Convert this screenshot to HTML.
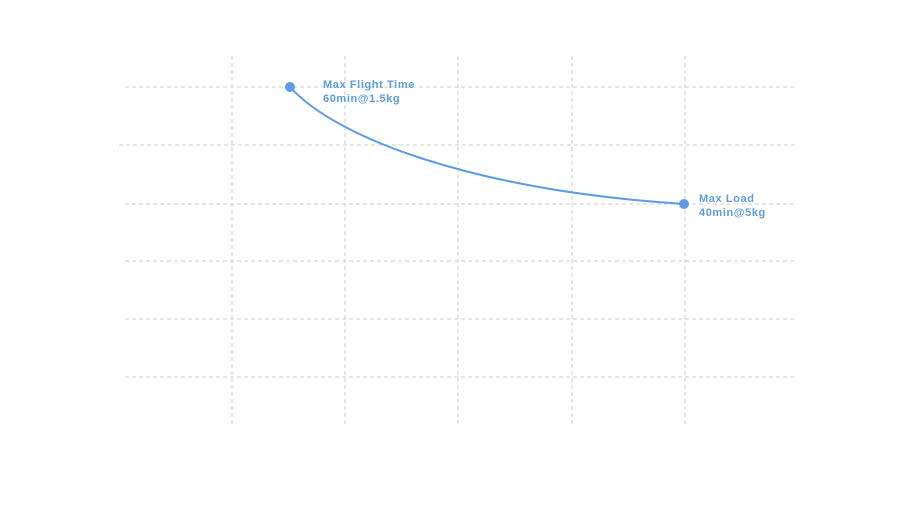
<!DOCTYPE html>
<html><head><meta charset="utf-8"><style>body{margin:0;background:#fff}</style></head><body>
<svg width="911" height="505" xmlns="http://www.w3.org/2000/svg">
<g stroke="#d8d8d8" stroke-width="1.3" stroke-dasharray="4,3" fill="none">
<line x1="125" y1="87" x2="795" y2="87"/>
<line x1="119" y1="145" x2="795" y2="145"/>
<line x1="125" y1="204" x2="795" y2="204"/>
<line x1="125" y1="261" x2="795" y2="261"/>
<line x1="125" y1="319" x2="795" y2="319"/>
<line x1="125" y1="377" x2="795" y2="377"/>
<line x1="232" y1="56" x2="232" y2="426"/>
<line x1="345" y1="56" x2="345" y2="426"/>
<line x1="458" y1="56" x2="458" y2="426"/>
<line x1="572" y1="56" x2="572" y2="426"/>
<line x1="685" y1="56" x2="685" y2="426"/>
</g>
<path d="M290,87 C335,137 470,190 684,204" stroke="#5b9be8" stroke-width="2" fill="none"/>
<circle cx="290" cy="87" r="5" fill="#5b9be8"/>
<circle cx="684" cy="204" r="5" fill="#5b9be8"/>
<g font-family="Liberation Sans, sans-serif" font-size="11" font-weight="bold" fill="#5b9be8" letter-spacing="0.6">
<text x="323" y="88">Max Flight Time</text>
<text x="323" y="102">60min@1.5kg</text>
<text x="699" y="202">Max Load</text>
<text x="699" y="216">40min@5kg</text>
</g>
</svg>
</body></html>
